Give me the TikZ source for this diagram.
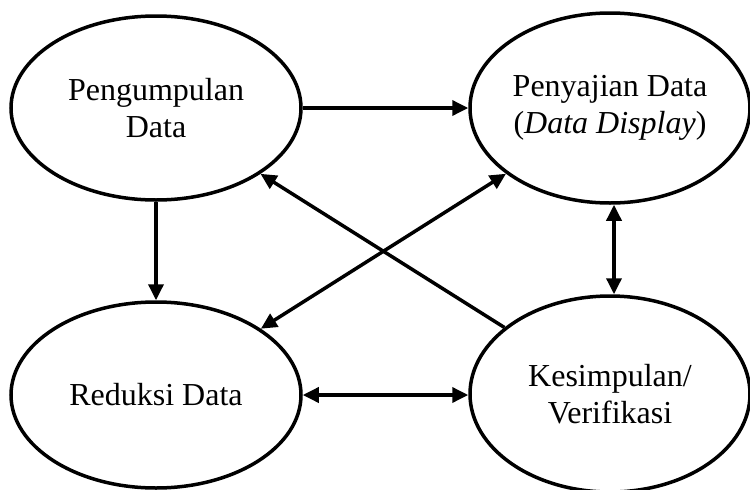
\documentclass[tikz,border=0pt]{standalone}
\usepackage{fontspec}
\setmainfont{Liberation Serif}
\usetikzlibrary{shapes.geometric,arrows.meta}
\tikzset{
  tahap/.style={ellipse,draw,line width=3.5pt,inner sep=0pt,align=center,
    font=\fontsize{32}{37}\selectfont},
  panah/.style={line width=3.5pt,-{Triangle[length=16pt,width=15pt]}},
  duaarah/.style={line width=3.5pt,{Triangle[length=16pt,width=15pt]}-{Triangle[length=16pt,width=15pt]}}
}
\begin{document}
\begin{tikzpicture}[x=1pt,y=-1pt]
\useasboundingbox (0,0) rectangle (750,490);
\node [tahap,minimum width=290pt,minimum height=184pt] (kumpul) at (156,108) {Pengumpulan\\Data};
\node [tahap,minimum width=280pt,minimum height=190pt] (saji) at (610,108) {Penyajian Data\\(\textit{Data Display})};
\node [tahap,minimum width=290pt,minimum height=186pt] (reduksi) at (156,395) {Reduksi Data};
\node [tahap,minimum width=280pt,minimum height=196pt] (simpul) at (610,394) {Kesimpulan/\\Verifikasi};
\draw [panah] (kumpul.south) -- (reduksi.north);
\draw [panah] (kumpul.east) -- (saji.west);
\draw [duaarah] ([xshift=4pt]saji.south) -- ([xshift=4pt]simpul.north);
\draw [duaarah] (reduksi.east) -- (reduksi.east -| simpul.west);
\draw [panah] (simpul) -- (kumpul);
\draw [duaarah] (saji) -- (reduksi);
\end{tikzpicture}
\end{document}
